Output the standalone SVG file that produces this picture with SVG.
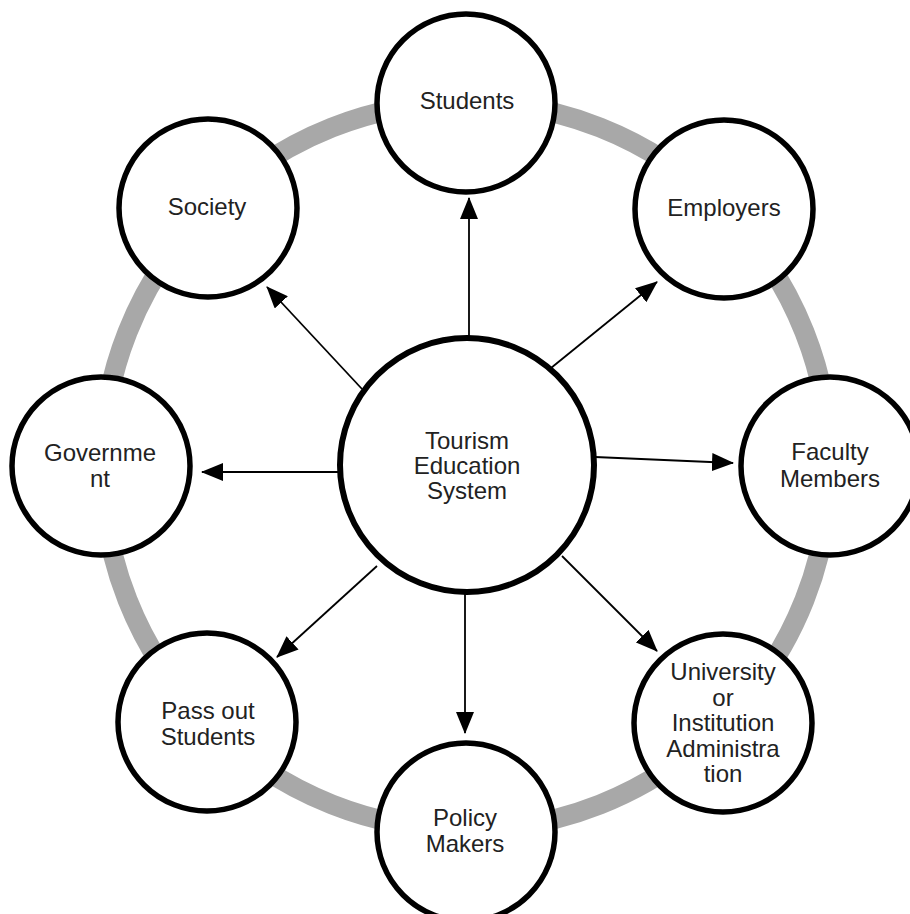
<svg xmlns="http://www.w3.org/2000/svg" width="910" height="914" viewBox="0 0 910 914">
<style>
.ring{fill:none;stroke:#a8a8a8;stroke-width:20}
.node{fill:#fff;stroke:#000;stroke-width:5.5}
.hub{fill:#fff;stroke:#000;stroke-width:6}
.lbl{font-family:"Liberation Sans",Arial,sans-serif;font-size:24px;fill:#222;text-anchor:middle}
.conn{stroke:#000;stroke-width:1.8;fill:none;marker-end:url(#ah)}
</style>
<defs>
<marker id="ah" markerUnits="userSpaceOnUse" markerWidth="22" markerHeight="18" viewBox="0 0 22 18" refX="21" refY="9" orient="auto">
<path d="M0,0 L22,9 L0,18 z" fill="#000"/>
</marker>
</defs>
<rect width="910" height="914" fill="#fff"/>
<circle class="ring" cx="466" cy="466" r="364"/>
<g id="connectors">
<line class="conn" x1="469" y1="338" x2="469" y2="198"/>
<line class="conn" x1="551" y1="368" x2="657" y2="282"/>
<line class="conn" x1="595" y1="457" x2="733" y2="463"/>
<line class="conn" x1="562" y1="556" x2="657" y2="651"/>
<line class="conn" x1="465" y1="593" x2="465" y2="733"/>
<line class="conn" x1="377" y1="566" x2="277" y2="657"/>
<line class="conn" x1="339" y1="472" x2="202" y2="472"/>
<line class="conn" x1="362" y1="389" x2="267" y2="287"/>
</g>
<g id="hub">
<circle class="hub" cx="467" cy="465" r="127"/>
<text class="lbl" x="467" y="449">Tourism</text>
<text class="lbl" x="467" y="474">Education</text>
<text class="lbl" x="467" y="499">System</text>
</g>
<g id="students">
<circle class="node" cx="466" cy="103" r="89"/>
<text class="lbl" x="467" y="109">Students</text>
</g>
<g id="employers">
<circle class="node" cx="724" cy="209" r="89"/>
<text class="lbl" x="724" y="216">Employers</text>
</g>
<g id="faculty">
<circle class="node" cx="830" cy="466" r="89"/>
<text class="lbl" x="830" y="460">Faculty</text>
<text class="lbl" x="830" y="487">Members</text>
</g>
<g id="university">
<circle class="node" cx="723" cy="723" r="89"/>
<text class="lbl" x="723" y="680">University</text>
<text class="lbl" x="723" y="706">or</text>
<text class="lbl" x="723" y="731">Institution</text>
<text class="lbl" x="723" y="757">Administra</text>
<text class="lbl" x="723" y="782">tion</text>
</g>
<g id="policy">
<circle class="node" cx="466" cy="832" r="89"/>
<text class="lbl" x="465" y="826">Policy</text>
<text class="lbl" x="465" y="852">Makers</text>
</g>
<g id="passout">
<circle class="node" cx="207" cy="722" r="89"/>
<text class="lbl" x="208" y="719">Pass out</text>
<text class="lbl" x="208" y="745">Students</text>
</g>
<g id="government">
<circle class="node" cx="101" cy="466" r="89"/>
<text class="lbl" x="100" y="461">Governme</text>
<text class="lbl" x="100" y="487">nt</text>
</g>
<g id="society">
<circle class="node" cx="208" cy="208" r="89"/>
<text class="lbl" x="207" y="215">Society</text>
</g>
</svg>
